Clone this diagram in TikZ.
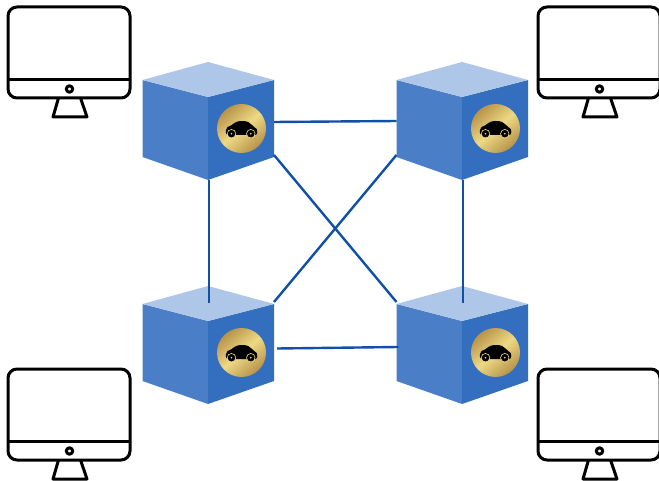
\documentclass[tikz,border=0pt]{standalone}
\usetikzlibrary{calc}
\definecolor{cubeL}{HTML}{4A7EC6}
\definecolor{cubeR}{HTML}{336FBE}
\definecolor{cubeT}{HTML}{AEC6E7}
\definecolor{linkc}{HTML}{1150A8}
\definecolor{goldA}{HTML}{EDD984}
\definecolor{goldB}{HTML}{B8934A}
\tikzset{
  link/.style={draw=linkc,line width=2.4pt},
  screen/.style={draw=black,line width=3pt,line join=round},
  cube/.pic={
    \fill[cubeL] (-65.5,-41) -- (0,-24) -- (0,59) -- (-65.5,36) -- cycle;
    \fill[cubeR] (66,-41) -- (0,-24) -- (0,59) -- (66,36) -- cycle;
    \fill[cubeT] (0,-59) -- (66,-41) -- (0,-24) -- (-65.5,-41) -- cycle;
    \shade[left color=goldB,right color=goldB,middle color=goldA,shading angle=40] (33.5,7.5) circle (24.5);
    \begin{scope}[shift={(33.5,7.5)}]
      \fill[black] (-15.7,2) .. controls (-15.5,-1) and (-13,-2.5) .. (-10,-3.3)
        .. controls (-7,-6) and (-4,-7.5) .. (0,-7.5)
        .. controls (3,-7.5) and (5,-7.2) .. (6.7,-6.5)
        .. controls (9,-5) and (11,-3) .. (13,-1.2)
        .. controls (15,-0.5) and (16,1) .. (15.8,3.5)
        .. controls (15.8,5) and (15,6.5) .. (14,6.5) -- (-14,6.5)
        .. controls (-15.5,6.5) and (-15.8,4) .. (-15.7,2) -- cycle;
      \fill[goldA] (-10,5.2) circle (4.6);
      \fill[goldA] (9.3,5.2) circle (4.6);
      \fill[black] (-10,5.2) circle (3.8);
      \fill[black] (9.3,5.2) circle (3.8);
      \fill[goldA] (-10,5.2) circle (0.9);
      \fill[goldA] (9.3,5.2) circle (0.9);
    \end{scope}
    \coordinate (-e1) at (66,1);
    \coordinate (-w1) at (-65.5,0);
    \coordinate (-se) at (66,34);
    \coordinate (-sw) at (-65.5,34);
    \coordinate (-ne) at (66,-43);
    \coordinate (-nw) at (-65.5,-43);
    \coordinate (-s) at (1,59);
    \coordinate (-n) at (1,-42);
  },
  monitor/.pic={
    \draw[screen,rounded corners=9pt] (0,0) rectangle (122,91);
    \draw[screen] (0,72.5) -- (122,72.5);
    \draw[screen] (61.5,82) circle (3.2);
    \draw[screen] (50.5,91) -- (45,110) -- (79,110) -- (72.5,91);
  }
}
\begin{document}
\begin{tikzpicture}[x=1pt,y=-1pt]
\useasboundingbox (0,0) rectangle (659,481);
\begin{scope}
\clip (0,0) rectangle (659,481);
\pic at (8,7) {monitor};
\pic at (538,7) {monitor};
\pic at (8,369) {monitor};
\pic at (538,369) {monitor};
\end{scope}
\pic (a) at (208,121) {cube};
\pic (b) at (462,121) {cube};
\pic (c) at (208,345) {cube};
\pic (d) at (462,345) {cube};
\draw[link] (a-e1) -- (b-w1);
\draw[link] ($(c-e1)+(3,2.5)$) -- ($(d-w1)+(2,2)$);
\draw[link] (a-s) -- (c-n);
\draw[link] (b-s) -- (d-n);
\draw[link] (a-se) -- (d-nw);
\draw[link] (c-ne) -- (b-sw);
\end{tikzpicture}
\end{document}
